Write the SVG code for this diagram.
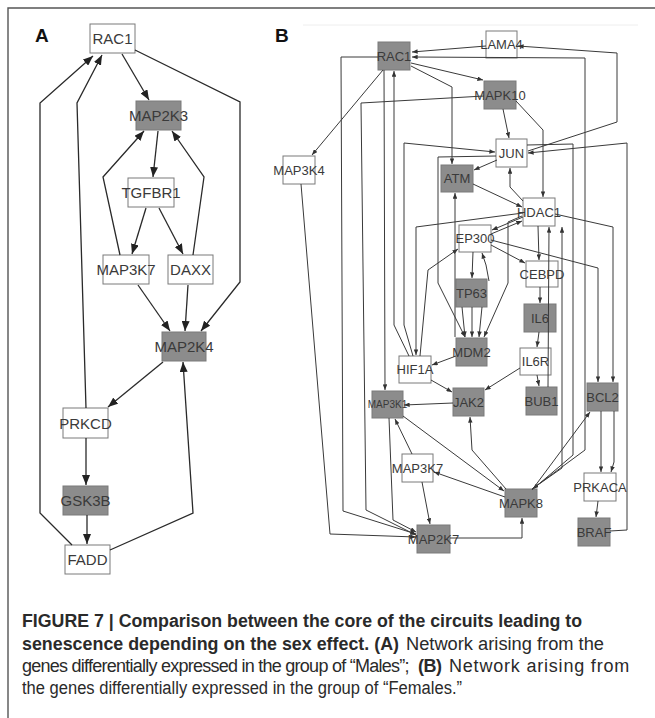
<svg xmlns="http://www.w3.org/2000/svg" width="655" height="718" viewBox="0 0 655 718">
<style>
.n rect{stroke:#7a7a7a;stroke-width:1}
.w rect{fill:#fff}
.g rect{fill:#8c8c8c}
.n text{font-family:"Liberation Sans",Arial,sans-serif;fill:#3a3a3a;text-anchor:middle}
.a text{font-size:15px}
.b text{font-size:13px}
.eA path{fill:none;stroke:#2a2a2a;stroke-width:1.3;marker-end:url(#ahA)}
.eB path{fill:none;stroke:#3a3a3a;stroke-width:1;marker-end:url(#ahB)}
.cap{font-family:"Liberation Sans",Arial,sans-serif;font-size:18px;fill:#2a2a2a}
.bd{font-weight:bold}
.pl{font-family:"Liberation Sans",Arial,sans-serif;font-size:19px;font-weight:bold;fill:#111}
</style>
<defs>
<marker id="ahA" viewBox="0 0 10 8" refX="10" refY="4" markerWidth="10" markerHeight="8" markerUnits="userSpaceOnUse" orient="auto"><path d="M0,0 L10,4 L0,8 z" fill="#222"/></marker>
<marker id="ahB" viewBox="0 0 10 8" refX="10" refY="4" markerWidth="6" markerHeight="4.5" markerUnits="userSpaceOnUse" orient="auto"><path d="M0,0 L10,4 L0,8 z" fill="#333"/></marker>
</defs>
<rect width="655" height="718" fill="#fff"/>
<path d="M8,718 L8,8 L655,8" fill="none" stroke="#555" stroke-width="1.4"/>
<line x1="303" y1="25" x2="638" y2="25" stroke="#eee" stroke-width="1"/>
<text class="pl" x="35" y="42">A</text>
<text class="pl" x="275" y="42">B</text>

<g id="nodesA" class="a">
<g id="A_RAC1" class="n w"><rect x="90" y="24" width="45" height="29"/><text x="112.5" y="44">RAC1</text></g>
<g id="A_MAP2K3" class="n g"><rect x="136" y="101" width="45" height="29"/><text x="158.5" y="121">MAP2K3</text></g>
<g id="A_TGFBR1" class="n w"><rect x="128" y="178" width="46" height="29"/><text x="151" y="198">TGFBR1</text></g>
<g id="A_MAP3K7" class="n w"><rect x="103" y="255" width="46" height="29"/><text x="126" y="275">MAP3K7</text></g>
<g id="A_DAXX" class="n w"><rect x="168" y="255" width="45" height="29"/><text x="190.5" y="275">DAXX</text></g>
<g id="A_MAP2K4" class="n g"><rect x="162" y="332" width="44" height="29"/><text x="184" y="352">MAP2K4</text></g>
<g id="A_PRKCD" class="n w"><rect x="63" y="408" width="45" height="30"/><text x="85.5" y="428.5">PRKCD</text></g>
<g id="A_GSK3B" class="n g"><rect x="63" y="486" width="45" height="29"/><text x="85.5" y="506">GSK3B</text></g>
<g id="A_FADD" class="n w"><rect x="65" y="545" width="45" height="29"/><text x="87.5" y="565">FADD</text></g>
</g>

<g id="nodesB" class="b">
<g id="B_RAC1" class="n g"><rect x="378" y="42" width="32" height="28"/><text x="394" y="60.5">RAC1</text></g>
<g id="B_LAMA4" class="n w"><rect x="486" y="31" width="31" height="27"/><text x="501.5" y="49">LAMA4</text></g>
<g id="B_MAPK10" class="n g"><rect x="484" y="81" width="32" height="28"/><text x="500" y="99.5">MAPK10</text></g>
<g id="B_MAP3K4" class="n w"><rect x="283" y="156" width="32" height="28"/><text x="299" y="174.5">MAP3K4</text></g>
<g id="B_JUN" class="n w"><rect x="496" y="139" width="31" height="28"/><text x="511.5" y="157.5">JUN</text></g>
<g id="B_ATM" class="n g"><rect x="441" y="165" width="32" height="27"/><text x="457" y="183">ATM</text></g>
<g id="B_HDAC1" class="n w"><rect x="523" y="198" width="32" height="28"/><text x="539" y="216.5">HDAC1</text></g>
<g id="B_EP300" class="n w"><rect x="459" y="225" width="32" height="27"/><text x="475" y="243">EP300</text></g>
<g id="B_CEBPD" class="n w"><rect x="526" y="261" width="32" height="26"/><text x="542" y="278.5">CEBPD</text></g>
<g id="B_TP63" class="n g"><rect x="456" y="279" width="31" height="28"/><text x="471.5" y="297.5">TP63</text></g>
<g id="B_IL6" class="n g"><rect x="524" y="304" width="32" height="28"/><text x="540" y="322.5">IL6</text></g>
<g id="B_MDM2" class="n g"><rect x="456" y="338" width="31" height="28"/><text x="471.5" y="356.5">MDM2</text></g>
<g id="B_IL6R" class="n w"><rect x="520" y="348" width="31" height="27"/><text x="535.5" y="366">IL6R</text></g>
<g id="B_HIF1A" class="n w"><rect x="399" y="356" width="32" height="27"/><text x="415" y="374">HIF1A</text></g>
<g id="B_JAK2" class="n g"><rect x="453" y="388" width="31" height="28"/><text x="468.5" y="406.5">JAK2</text></g>
<g id="B_BUB1" class="n g"><rect x="526" y="387" width="31" height="28"/><text x="541.5" y="405.5">BUB1</text></g>
<g id="B_MAP3K1" class="n g"><rect x="372" y="391" width="31" height="27"/><text x="387.5" y="408" style="font-size:10px">MAP3K1</text></g>
<g id="B_BCL2" class="n g"><rect x="587" y="383" width="31" height="28"/><text x="602.5" y="401.5">BCL2</text></g>
<g id="B_MAP3K7" class="n w"><rect x="402" y="454" width="31" height="28"/><text x="417.5" y="472.5">MAP3K7</text></g>
<g id="B_PRKACA" class="n w"><rect x="584" y="473" width="32" height="28"/><text x="600" y="491.5">PRKACA</text></g>
<g id="B_MAPK8" class="n g"><rect x="505" y="489" width="32" height="28"/><text x="521" y="507.5">MAPK8</text></g>
<g id="B_BRAF" class="n g"><rect x="578" y="518" width="32" height="28"/><text x="594" y="536.5">BRAF</text></g>
<g id="B_MAP2K7" class="n g"><rect x="417" y="525" width="33" height="28"/><text x="433.5" y="543.5">MAP2K7</text></g>
</g>

<g id="connectors">
<g class="eA">
<path d="M122,54 L149,100"/>
<path d="M135,50 L240,102 L240,282 L201,331"/>
<path d="M72,545 L40,513 L40,103 L93,56"/>
<path d="M86,408 L77,103 L102,55"/>
<path d="M158,131 L153,177"/>
<path d="M146,208 L132,254"/>
<path d="M159,208 L183,254"/>
<path d="M120,255 L103,177 L144,131"/>
<path d="M193,255 L204,177 L172,131"/>
<path d="M138,285 L170,331"/>
<path d="M188,285 L185,331"/>
<path d="M163,362 L108,407"/>
<path d="M86,438 L86,485"/>
<path d="M87,515 L87,544"/>
<path d="M110,550 L193,513 L183,362"/>
</g>
<g class="eB">
<path d="M383,70 L312,155"/>
<path d="M301,184 L330,534 L416,537"/>
<path d="M378,57 L341,57 L343,511 L416,534"/>
<path d="M484,96 L361,103 L366,510 L416,535"/>
<path d="M384,70 L385,390"/>
<path d="M409,356 L394,325 L394,71"/>
<path d="M413,356 L404,325 L404,143 L495,152"/>
<path d="M523,213 L416,227 L416,355"/>
<path d="M420,356 L428,270 L458,249"/>
<path d="M497,160 L474,170"/>
<path d="M496,156 L438,157 L438,283 L465,337"/>
<path d="M411,63 L483,80"/>
<path d="M411,66 L452,87 L452,164"/>
<path d="M455,337 L455,193"/>
<path d="M486,46 L412,52"/>
<path d="M532,489 L585,450 L585,58 L412,57"/>
<path d="M528,151 L617,122 L617,53 L518,46"/>
<path d="M610,531 L627,530 L627,143 L528,153"/>
<path d="M527,145 L573,144 L573,455 L533,489"/>
<path d="M503,109 L509,138"/>
<path d="M516,101 L543,130 L543,197"/>
<path d="M523,201 L510,187 L510,168"/>
<path d="M473,184 L522,207"/>
<path d="M523,217 L492,230"/>
<path d="M491,234 L522,221"/>
<path d="M473,252 L472,278"/>
<path d="M489,281 L486,265 L482,253"/>
<path d="M491,245 L525,263"/>
<path d="M491,240 L598,268 L598,382"/>
<path d="M555,214 L613,227 L613,382"/>
<path d="M538,226 L539,260"/>
<path d="M540,287 L540,303"/>
<path d="M539,332 L537,347"/>
<path d="M537,375 L539,386"/>
<path d="M548,387 L549,227"/>
<path d="M532,489 L562,468 L562,227"/>
<path d="M520,368 L485,390"/>
<path d="M456,356 L432,365"/>
<path d="M431,380 L452,392"/>
<path d="M453,403 L404,405"/>
<path d="M462,307 L465,337"/>
<path d="M472,307 L472,337"/>
<path d="M482,307 L479,337"/>
<path d="M522,216 L508,222 L508,283 L484,337"/>
<path d="M403,416 L504,491"/>
<path d="M505,497 L434,472"/>
<path d="M412,454 L395,419"/>
<path d="M422,482 L430,524"/>
<path d="M389,418 L393,520 L416,532"/>
<path d="M450,538 L522,538 L522,518"/>
<path d="M506,489 L472,450 L470,417"/>
<path d="M532,490 L590,412"/>
<path d="M601,411 L601,472"/>
<path d="M614,411 L614,462 L611,472"/>
<path d="M598,501 L596,517"/>
</g>
</g>

<g id="caption">
<text class="cap bd" x="22" y="627" textLength="560" lengthAdjust="spacingAndGlyphs">FIGURE 7 | Comparison between the core of the circuits leading to</text>
<text class="cap bd" x="22" y="650" textLength="377" lengthAdjust="spacingAndGlyphs">senescence depending on the sex effect. (A)</text>
<text class="cap" x="406" y="650" textLength="198" lengthAdjust="spacingAndGlyphs">Network arising from the</text>
<text class="cap" x="22" y="672" letter-spacing="-0.75">genes differentially expressed in the group of “Males”;</text>
<text class="cap bd" x="418" y="672" letter-spacing="-0.5">(B)</text>
<text class="cap" x="449" y="672" letter-spacing="0.8">Network arising from</text>
<text class="cap" x="22" y="694" textLength="440" lengthAdjust="spacingAndGlyphs">the genes differentially expressed in the group of “Females.”</text>
</g>
</svg>
